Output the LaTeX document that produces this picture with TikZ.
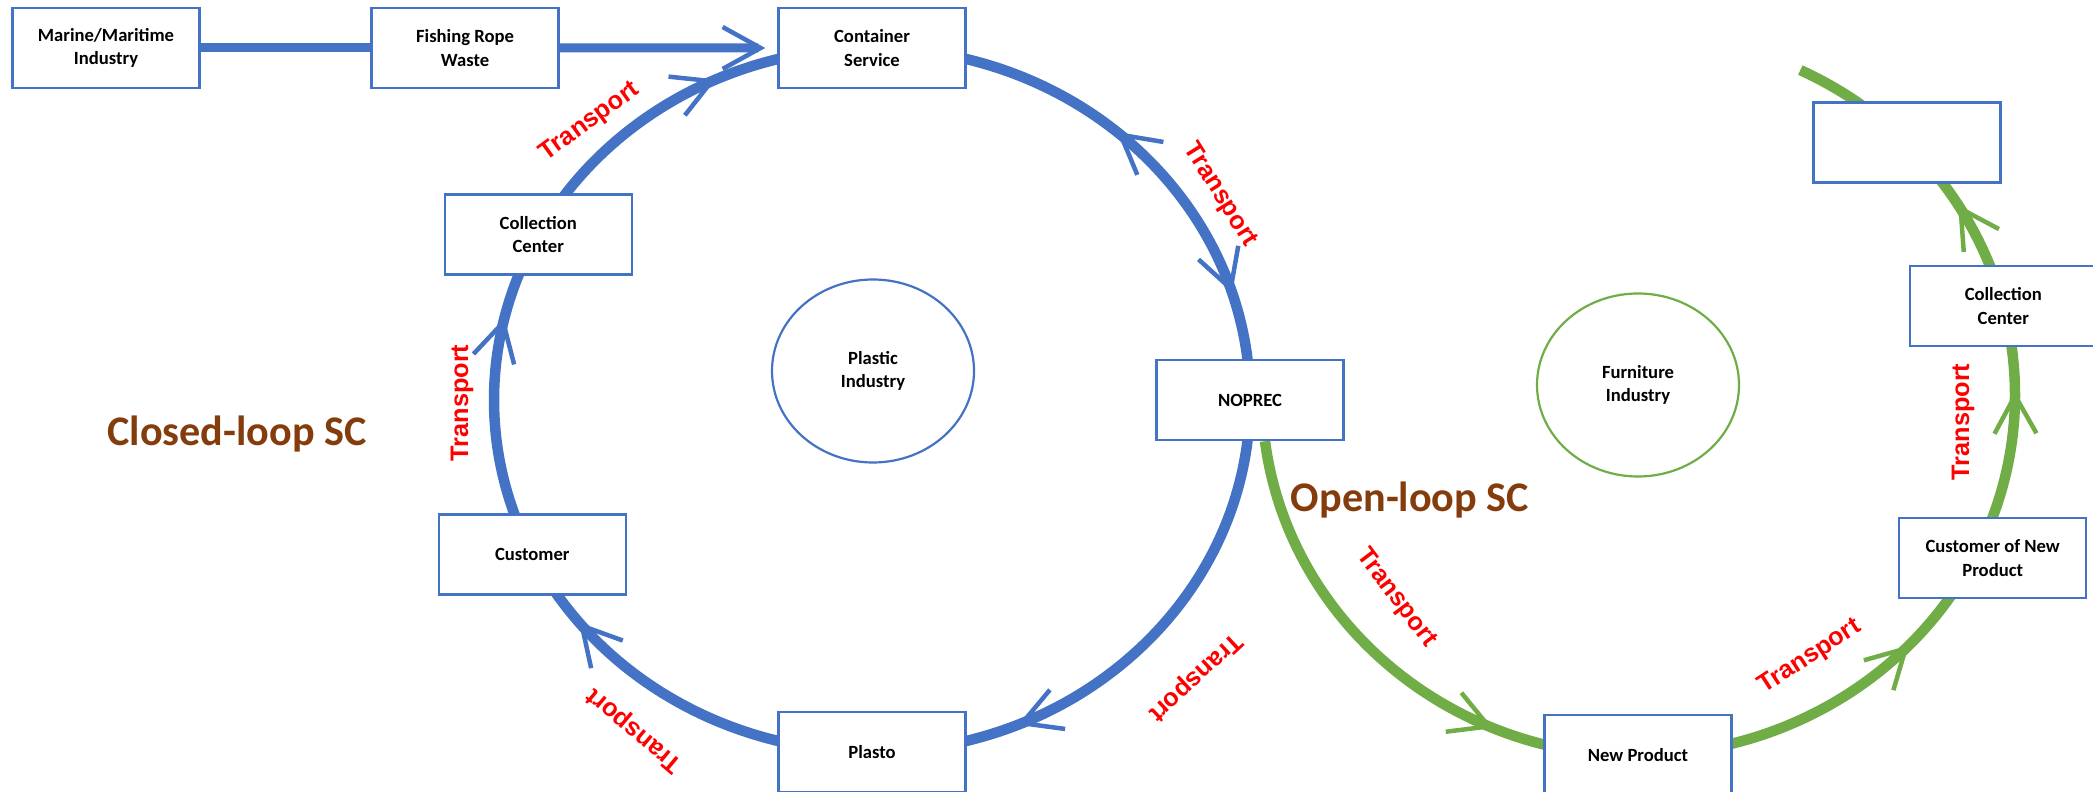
\documentclass[tikz,border=0pt]{standalone}
\usepackage{fontspec}
\setmainfont{Carlito}
\newfontfamily\transportfont{Liberation Sans}
\usetikzlibrary{arrows.meta,decorations.markings,backgrounds,shapes.geometric}
\definecolor{scblue}{HTML}{4472C4}
\definecolor{scgreen}{HTML}{70AD47}
\definecolor{scbrown}{HTML}{843C0C}
\begin{document}
\begin{tikzpicture}
\tikzset{box/.style={draw=scblue,line width=0.025cm,fill=white,minimum width=1.87cm,minimum height=0.8cm,inner sep=0pt,align=center,font=\fontsize{5.3}{6.6}\selectfont\bfseries}}
\tikzset{hub/.style={ellipse,line width=0.022cm,minimum width=2.02cm,minimum height=1.83cm,inner sep=0pt,align=center,font=\fontsize{5.3}{6.6}\selectfont\bfseries}}
\tikzset{tr/.style={text=red,inner sep=0pt,font=\transportfont\fontsize{7.2}{8.6}\selectfont\bfseries}}
\tikzset{loopname/.style={text=scbrown,inner sep=0pt,font=\fontsize{12}{14}\selectfont\bfseries}}
\tikzset{flow/.style={line width=0.105cm}}
\tikzset{scbarb/.tip={Straight Barb[length=0.38cm,width=0.42cm,line width=0.045cm]}}
\tikzset{tipat/.style={postaction={decorate,decoration={markings,mark=at position #1 with {\arrow{scbarb}}}}}}
\tikzset{tipback/.style={postaction={decorate,decoration={markings,mark=at position #1 with {\arrowreversed{scbarb}}}}}}
\useasboundingbox (0,0) rectangle (20.93,7.91);
\coordinate (bc) at (8.72,3.91);
\coordinate (gc) at (16.38,3.96);
\node[box] (mmi) at (1.06,7.43) {Marine/Maritime\\Industry};
\node[box] (frw) at (4.65,7.43) {Fishing Rope\\Waste};
\path (bc) ++(90:3.78cm and 3.52cm) node[box] (cs) {Container\\Service};
\path (bc) ++(0:3.78cm and 3.52cm) node[box] (noprec) {NOPREC};
\path (bc) ++(270:3.78cm and 3.52cm) node[box] (plasto) {Plasto};
\path (bc) ++(206:3.78cm and 3.52cm) node[box] (cust) {Customer};
\path (bc) ++(152:3.78cm and 3.52cm) node[box] (cc) {Collection\\Center};
\path (gc) ++(270:3.77cm and 3.6cm) node[box] (np) {New Product};
\path (gc) ++(340.2:3.77cm and 3.6cm) node[box,anchor=north] (cnp) {Customer of New\\Product};
\path (gc) ++(14.3:3.77cm and 3.6cm) node[box] (gcc) {Collection\\Center};
\path (gc) ++(44.5:3.77cm and 3.6cm) node[box] (eb) {};
\node[hub,draw=scblue] (pi) at (8.73,4.20) {Plastic\\Industry};
\node[hub,draw=scgreen] (fi) at (16.38,4.06) {Furniture\\Industry};
\node[loopname] (cl) at (2.37,3.57) {Closed-loop SC};
\node[loopname] (ol) at (14.10,2.91) {Open-loop SC};
\node[tr,rotate=36] (tr1) at (5.90,6.69) {Transport};
\node[tr,rotate=-58] (tr2) at (12.20,5.96) {Transport};
\node[tr,rotate=223] (tr3) at (11.95,1.14) {Transport};
\node[tr,rotate=140] (tr4) at (6.35,0.61) {Transport};
\node[tr,rotate=90] (tr5) at (4.62,3.88) {Transport};
\node[tr,rotate=-53] (tr6) at (13.96,1.93) {Transport};
\node[tr,rotate=33] (tr7) at (18.10,1.34) {Transport};
\node[tr,rotate=90] (tr8) at (19.63,3.69) {Transport};
\draw[line width=0.09cm,scblue] (mmi) -- (frw);
\draw[line width=0.09cm,scblue,-scbarb,shorten >=0.12cm] (frw) -- (cs);
\begin{scope}[on background layer={flow,scblue,x radius=3.78cm,y radius=3.52cm}]
\draw[tipat=0.6] (cc.center) arc[start angle=152,end angle=90];
\draw[tipback=0.46,tipat=0.81] (cs.center) arc[start angle=90,end angle=0];
\draw[tipat=0.74] (noprec.center) arc[start angle=0,end angle=-90];
\draw[tipat=0.8] (plasto.center) arc[start angle=270,end angle=206];
\draw[tipat=0.73] (cust.center) arc[start angle=206,end angle=152];
\end{scope}
\begin{scope}[on background layer={flow,scgreen,x radius=3.77cm,y radius=3.6cm}]
\draw[tipat=0.72] ([xshift=0.15cm]noprec.south) arc[start angle=187.2,end angle=270];
\draw[tipat=0.66] (np.center) arc[start angle=270,end angle=340.2];
\draw[tipat=0.6] (cnp.north) arc[start angle=340.2,end angle=374.3];
\draw[tipat=0.58] (gcc.center) arc[start angle=14.3,end angle=44.5];
\draw (eb.center) arc[start angle=44.5,end angle=64.5];
\end{scope}
\end{tikzpicture}
\end{document}
